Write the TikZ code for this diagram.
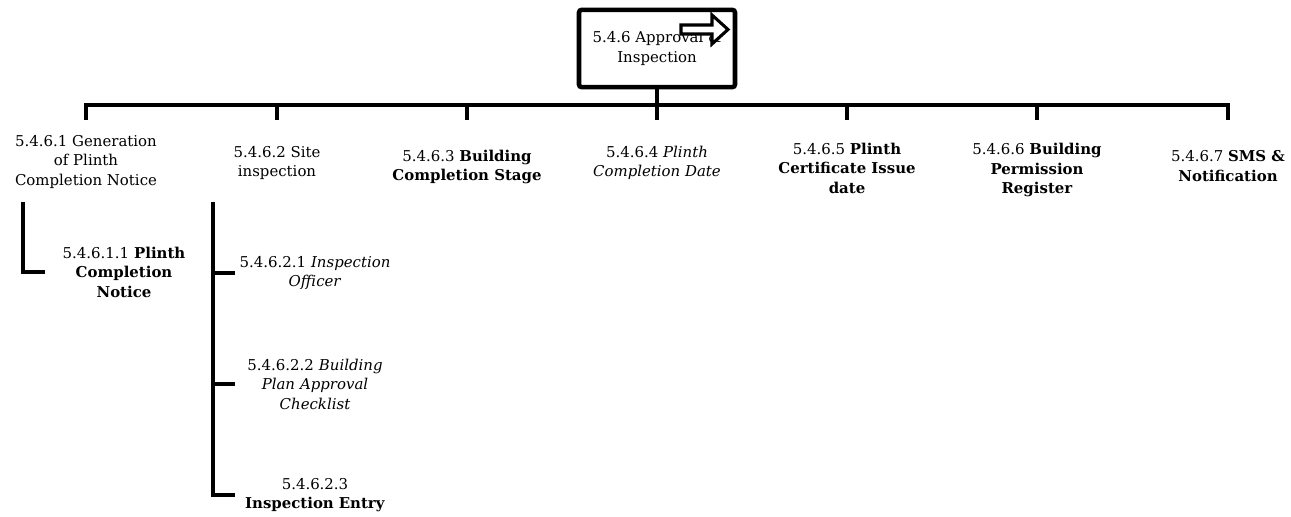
\documentclass[tikz,border=0pt]{standalone}
\usepackage{fontspec}
\setmainfont{DejaVu Serif}
\usepackage{tikz}
\usetikzlibrary{positioning}

\begin{document}
\begin{tikzpicture}[x=0.75pt,y=-0.75pt,
 lbl/.style={align=center,inner sep=0pt,font=\fontsize{11.2}{14.6}\selectfont},
 topbox/.style={lbl,draw,line width=3.4pt,rounded corners=2pt,minimum width=117pt,minimum height=58pt},
 tree/.style={line width=3.4pt,line join=miter},
 blockarrow/.style={draw,line width=2.3pt,fill=white,line join=miter}]
\useasboundingbox (0,0) rectangle (1291,517);
% root
\node[topbox] (top) at (657,48.5) {5.4.6 Approval \&\\Inspection};
\draw[blockarrow] (681,25) -- (712,25) -- (712,15) -- (728,29.5) -- (712,44) -- (712,34) -- (681,34) -- cycle;
% first level
\node[lbl] (c1) at (86,162) {5.4.6.1 Generation\\of Plinth\\Completion Notice};
\node[lbl] (c2) at (277,163) {5.4.6.2 Site\\inspection};
\node[lbl] (c3) at (467,167) {5.4.6.3 \textbf{Building}\\\textbf{Completion Stage}};
\node[lbl] (c4) at (657,163) {5.4.6.4 \textit{Plinth}\\\textit{Completion Date}};
\node[lbl] (c5) at (847,168) {5.4.6.5 \textbf{Plinth}\\\textbf{Certificate Issue}\\\textbf{date}};
\node[lbl] (c6) at (1037,170) {5.4.6.6 \textbf{Building}\\\textbf{Permission}\\\textbf{Register}};
\node[lbl] (c7) at (1228,166) {5.4.6.7 \textbf{SMS \&}\\\textbf{Notification}};
% second level
\node[lbl,text width=118.5pt] (p1) at (124,272) {5.4.6.1.1 \textbf{Plinth}\\\textbf{Completion}\\\textbf{Notice}};
\node[lbl,text width=120pt] (i1) at (315,273) {5.4.6.2.1 \textit{Inspection}\\\textit{Officer}};
\node[lbl,text width=120pt] (i2) at (315,384) {5.4.6.2.2 \textit{Building}\\\textit{Plan Approval}\\\textit{Checklist}};
\node[lbl,text width=120pt] (i3) at (315,495) {5.4.6.2.3\\\textbf{Inspection Entry}};
% connectors
\coordinate (bar) at (657,105);
\coordinate (drop) at (657,120);
\coordinate (a1) at (23,202);
\coordinate (s0) at (213,202);
\draw[tree] (top.south) -- (top |- bar);
\draw[tree] (c1 |- drop) -- (c1 |- bar) -- (c7 |- bar) -- (c7 |- drop);
\foreach \c in {c2,c3,c4,c5,c6} {\draw[tree] (\c |- bar) -- (\c |- drop);}
\draw[tree] (a1) |- (p1.west);
\draw[tree] (s0) |- (i3.west);
\foreach \c in {i1,i2} {\draw[tree] (\c.west -| s0) -- (\c.west);}
\end{tikzpicture}
\end{document}
